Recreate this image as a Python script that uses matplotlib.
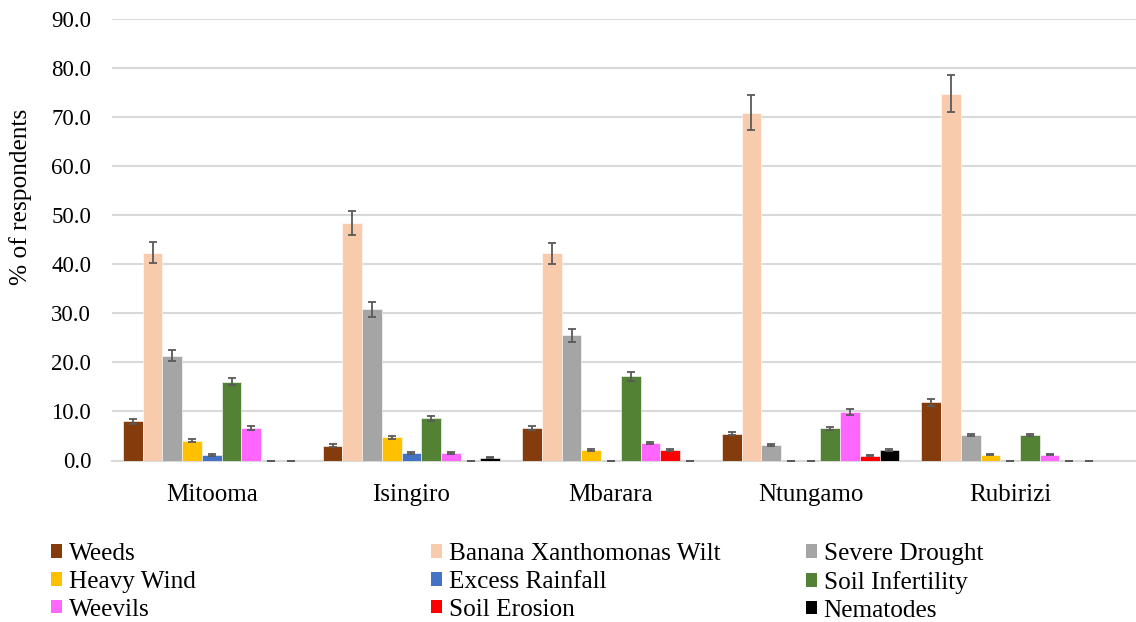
import numpy as np
import matplotlib
matplotlib.use("Agg")
import matplotlib.pyplot as plt
from matplotlib.patches import Patch

plt.rcParams['font.family'] = ['Liberation Serif', 'DejaVu Serif']

districts = ["Mitooma", "Isingiro", "Mbarara", "Ntungamo", "Rubirizi"]
constraints = ["Weeds", "Banana Xanthomonas Wilt", "Severe Drought", "Heavy Wind",
               "Excess Rainfall", "Soil Infertility", "Weevils", "Soil Erosion", "Nematodes"]

weeds = [8.0, 3.0, 6.6, 5.5, 11.9]
bxw = [42.4, 48.5, 42.2, 70.9, 74.8]
drought = [21.4, 30.8, 25.5, 3.2, 5.2]
wind = [4.0, 4.7, 2.1, 0.0, 1.2]
rainfall = [1.2, 1.5, 0.0, 0.0, 0.0]
infertility = [16.1, 8.6, 17.2, 6.6, 5.2]
weevils = [6.7, 1.5, 3.6, 9.9, 1.2]
erosion = [0.0, 0.0, 2.1, 1.0, 0.0]
nematodes = [0.0, 0.6, 0.0, 2.1, 0.0]

err_weeds = [0.5, 0.3, 0.4, 0.3, 0.7]
err_bxw = [2.1, 2.45, 2.2, 3.6, 3.8]
err_drought = [1.1, 1.6, 1.3, 0.25, 0.3]
err_wind = [0.3, 0.3, 0.2, 0.0, 0.15]
err_rainfall = [0.2, 0.2, 0.0, 0.0, 0.0]
err_infertility = [0.8, 0.5, 0.9, 0.3, 0.3]
err_weevils = [0.4, 0.2, 0.25, 0.55, 0.15]
err_erosion = [0.0, 0.0, 0.2, 0.15, 0.0]
err_nematodes = [0.0, 0.15, 0.0, 0.2, 0.0]

series = [weeds, bxw, drought, wind, rainfall, infertility, weevils, erosion, nematodes]
errors = [err_weeds, err_bxw, err_drought, err_wind, err_rainfall,
          err_infertility, err_weevils, err_erosion, err_nematodes]
colors = ["#843C0C", "#F8CBAD", "#A5A5A5", "#FFC000", "#4472C4",
          "#548235", "#FF66FF", "#FF0000", "#000000"]

fig = plt.figure(figsize=(11.36, 6.22), dpi=100)
ax = fig.add_axes([112 / 1136, 1 - 460.5 / 622, 1 - 112 / 1136, (460.5 - 19) / 622])

x = np.arange(len(districts))
width = 0.0988
n = len(series)
for i, (vals, errs, col) in enumerate(zip(series, errors, colors)):
    pos = x + (i - (n - 1) / 2) * width
    ax.bar(pos, vals, width=width, color=col, edgecolor="white", linewidth=0.4, zorder=3)
    ax.errorbar(pos, vals, yerr=errs, fmt="none", ecolor="#595959",
                elinewidth=1.3, capsize=3.2, capthick=1.3, zorder=4)

ax.set_xlim(-0.5, 4.5 + 26 / 199.5)
ax.set_ylim(0, 90)
ax.set_yticks(np.arange(0, 91, 10))
ax.set_yticklabels([f"{v:.1f}" for v in np.arange(0, 91, 10)])
ax.set_xticks(x)
ax.set_xticklabels(districts)
ax.tick_params(axis="y", length=0, labelsize=16.5, pad=15)
ax.tick_params(axis="x", length=0, labelsize=18, pad=17)
ax.yaxis.grid(True, color="#D9D9D9", linewidth=1.5, zorder=0)
ax.set_axisbelow(True)
for s in ["top", "right", "left"]:
    ax.spines[s].set_visible(False)
ax.spines["bottom"].set_color("#D9D9D9")
ax.spines["bottom"].set_linewidth(1.5)
ax.set_ylabel("% of respondents", fontsize=18.3)
ax.yaxis.set_label_coords(-0.078, 0.597)

# Legend: three columns, laid out row by row
col_x = [51 / 1136, 431 / 1136, 806 / 1136]
for c in range(3):
    idx = [c, c + 3, c + 6]
    handles = [Patch(facecolor=colors[k], edgecolor="none") for k in idx]
    labels = [constraints[k] for k in idx]
    fig.legend(handles, labels, loc="upper left", bbox_to_anchor=(col_x[c], 1 - 543 / 622),
               frameon=False, fontsize=18.2, handlelength=0.45, handleheight=0.45,
               handletextpad=0.25, labelspacing=0.23, borderpad=0, borderaxespad=0)

fig.savefig("out.png", dpi=100)
